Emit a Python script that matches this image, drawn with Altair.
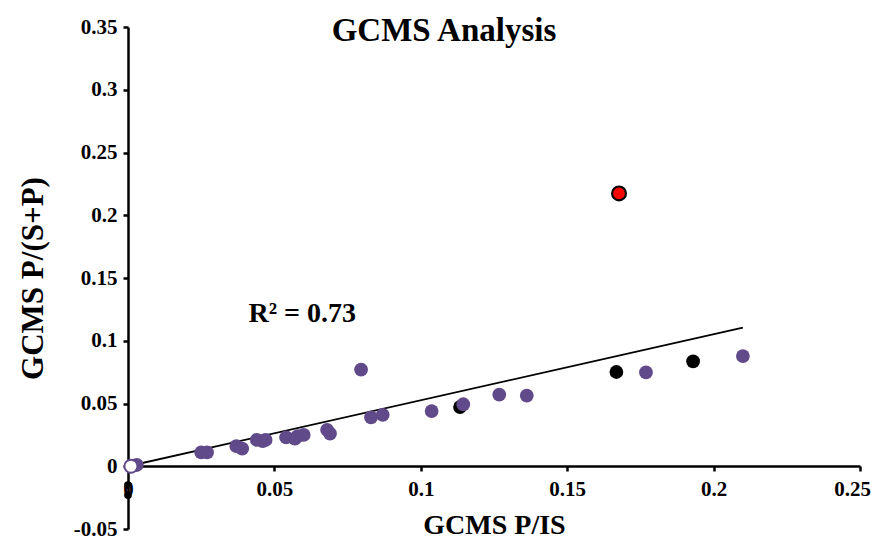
import altair as alt
import pandas as pd

# Purple series
px_vals = [0.003, 0.025, 0.027, 0.037, 0.039, 0.044, 0.046, 0.047, 0.054, 0.057, 0.058, 0.060,
           0.068, 0.069, 0.0796, 0.083, 0.087, 0.1037, 0.1145, 0.1268, 0.1362, 0.1769, 0.210]
py_vals = [0.001, 0.011, 0.011, 0.016, 0.014, 0.021, 0.020, 0.021, 0.023, 0.022, 0.024, 0.025,
           0.029, 0.026, 0.077, 0.039, 0.041, 0.044, 0.0494, 0.0571, 0.0563, 0.0748, 0.0878]
# Black series
bx_vals = [0.0, 0.0, 0.1134, 0.1668, 0.193]
by_vals = [-0.015, -0.023, 0.0472, 0.0751, 0.0836]
# Open (hollow) point
ox_vals = [0.001]
oy_vals = [0.0]
# Red outlier
rx_vals = [0.1677]
ry_vals = [0.2174]
# Trendline
tx_vals = [0.0, 0.210]
ty_vals = [0.0, 0.1104]
r2_label = "R² = 0.73"

FONT = "Liberation Serif"

purple = pd.DataFrame({"x": px_vals, "y": py_vals})
black = pd.DataFrame({"x": bx_vals, "y": by_vals})
openp = pd.DataFrame({"x": ox_vals, "y": oy_vals})
red = pd.DataFrame({"x": rx_vals, "y": ry_vals})
trend = pd.DataFrame({"x": tx_vals, "y": ty_vals})
label = pd.DataFrame({"x": [0.0595], "y": [0.1215], "t": [r2_label]})

xscale = alt.Scale(domain=[0, 0.25], nice=False, zero=False)
yscale = alt.Scale(domain=[-0.05, 0.35], nice=False, zero=False)

LBL = "datum.value < 0 ? '-' + format(-datum.value, '~g') : format(datum.value, '~g')"

xaxis = alt.Axis(values=[0, 0.05, 0.1, 0.15, 0.2, 0.25], labelExpr=LBL, offset=-63,
                 title="GCMS P/IS", titleFontSize=28, titleFont=FONT, titleFontWeight="bold",
                 titlePadding=12, labelFont=FONT, labelFontSize=21, labelFontWeight="bold",
                 labelColor="black", titleColor="black",
                 labelOffset={"condition": {"test": "datum.value >= 0.25", "value": -8}, "value": 0},
                 domainColor="black", domainWidth=2.5, tickColor="black", tickWidth=2.5,
                 tickSize=5, labelPadding=7, grid=False, labelFlush=False, labelOverlap=False)
yaxis = alt.Axis(values=[-0.05, 0, 0.05, 0.1, 0.15, 0.2, 0.25, 0.3, 0.35], labelExpr=LBL,
                 title="GCMS P/(S+P)", titleFontSize=31, titleFont=FONT, titleFontWeight="bold",
                 titlePadding=24, labelFont=FONT, labelFontSize=21, labelFontWeight="bold",
                 labelColor="black", titleColor="black",
                 domainColor="black", domainWidth=2.5, tickColor="black", tickWidth=2.5,
                 tickSize=5, labelPadding=6, grid=False, labelFlush=False, labelOverlap=False)

base_x = alt.X("x:Q", scale=xscale, axis=xaxis)
base_y = alt.Y("y:Q", scale=yscale, axis=yaxis)

line = alt.Chart(trend).mark_line(color="black", strokeWidth=1.8).encode(x=base_x, y=base_y)
pts_p = alt.Chart(purple).mark_circle(size=190, color="#604A8A", opacity=1).encode(x="x:Q", y="y:Q")
pts_b_small = alt.Chart(black.iloc[:2]).mark_circle(size=60, color="black", opacity=1).encode(x="x:Q", y="y:Q")
pts_b2 = alt.Chart(black.iloc[2:]).mark_circle(size=190, color="black", opacity=1).encode(x="x:Q", y="y:Q")
pts_o = alt.Chart(openp).mark_point(size=170, shape="circle", filled=True, fill="white",
                                    stroke="#604A8A", strokeWidth=2, opacity=1).encode(x="x:Q", y="y:Q")
pts_r = alt.Chart(red).mark_point(size=190, shape="circle", filled=True, fill="#FF0000",
                                  stroke="black", strokeWidth=2.2, opacity=1).encode(x="x:Q", y="y:Q")
txt = alt.Chart(label).mark_text(font=FONT, fontSize=28, fontWeight="bold", color="black",
                                 align="center", baseline="middle").encode(x="x:Q", y="y:Q", text="t:N")

chart = alt.layer(line, pts_b_small, pts_b2, pts_p, pts_o, pts_r, txt).properties(
    width=732, height=502,
    title=alt.TitleParams("GCMS Analysis", font=FONT, fontSize=33, fontWeight="bold",
                          color="black", anchor="middle", dx=-50, offset=-32),
    autosize=alt.AutoSizeParams(type="none"),
    padding={"left": 120, "top": 19, "right": 13, "bottom": 12},
).configure_view(stroke=None)

chart.save("out.html", embed_options={"renderer": "svg", "actions": False})
